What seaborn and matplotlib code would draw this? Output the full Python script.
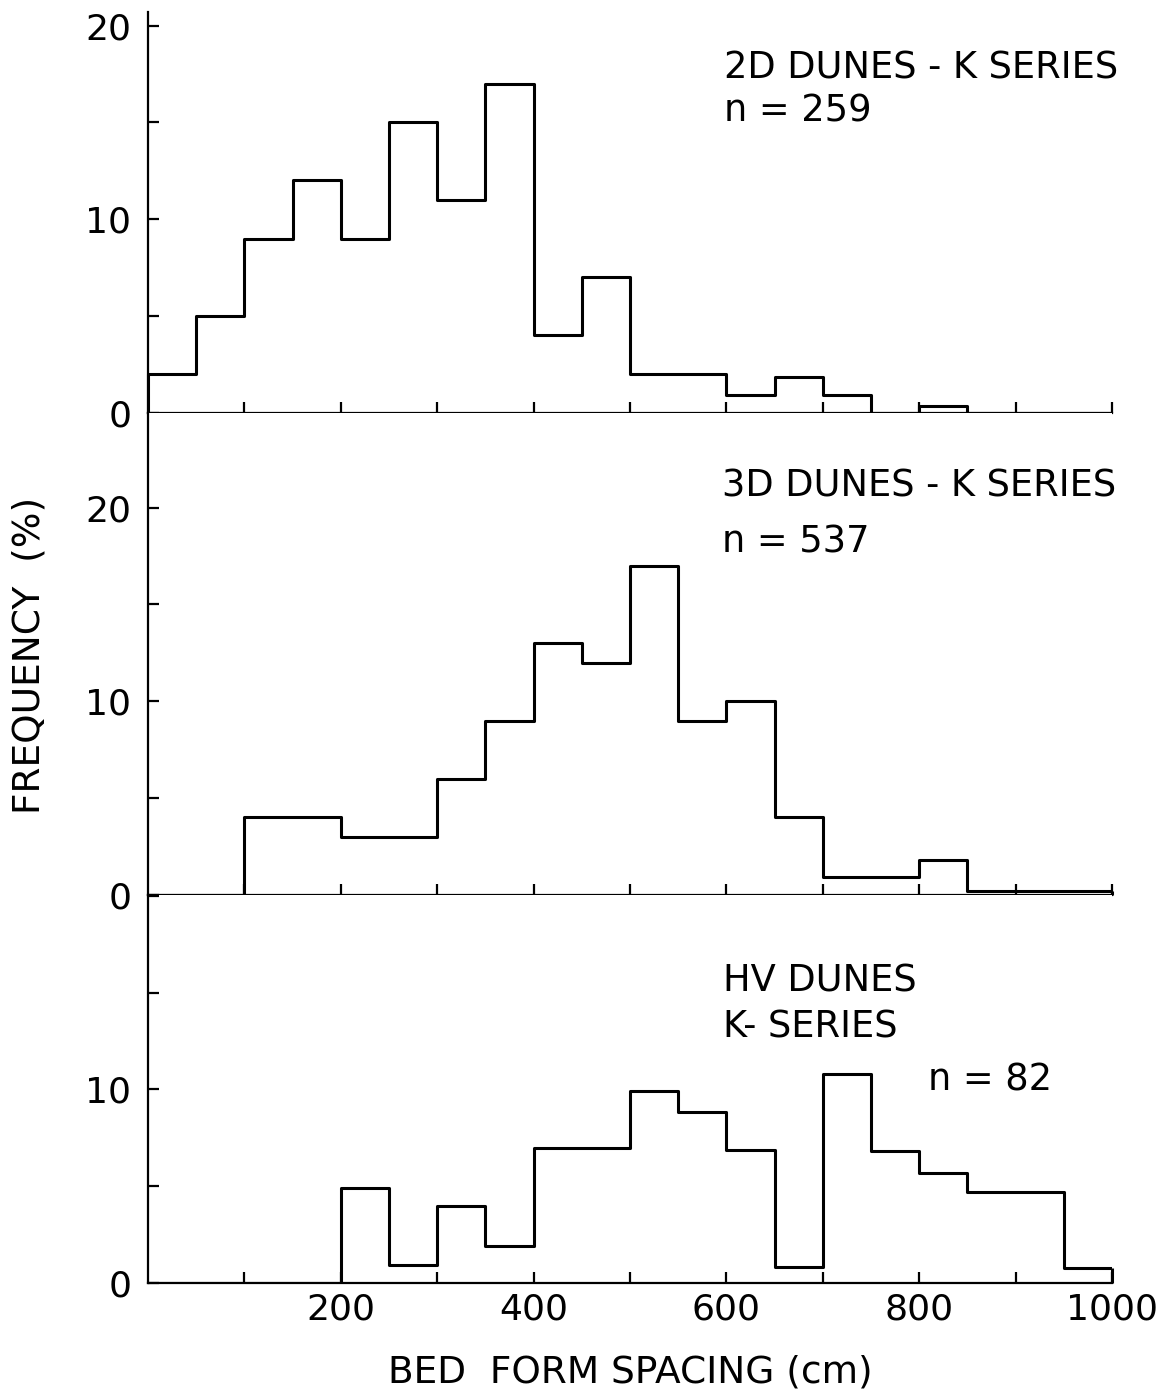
import numpy as np
import pandas as pd
import matplotlib
matplotlib.use("Agg")
import matplotlib.pyplot as plt
import seaborn as sns

# ---- data ----
bin_edges = list(range(0, 1001, 50))
freq_2d = [2, 5, 9, 12, 9, 15, 11, 17, 4, 7, 2, 2, 0.9, 1.85, 0.9, 0, 0.35, 0, 0, 0]
freq_3d = [0, 0, 4, 4, 3, 3, 6, 9, 13, 12, 17, 9, 10, 4, 0.9, 0.9, 1.8, 0.2, 0.2, 0.2]
freq_hv = [0, 0, 0, 0, 4.9, 0.95, 4, 1.9, 7, 7, 9.9, 8.85, 6.85, 0.85, 10.8, 6.8, 5.7, 4.7, 4.7, 0.8]

x_ticks = [100, 200, 300, 400, 500, 600, 700, 800, 900, 1000]
x_ticklabels = ["", "200", "", "400", "", "600", "", "800", "", "1000"]
y_ticks = [0, 5, 10, 15, 20]
y_labels_full = ["0", "", "10", "", "20"]
y_labels_bottom = ["0", "", "10", "", ""]

x_title = "BED  FORM SPACING (cm)"
y_title = "FREQUENCY  (%)"

sns.set_theme(style="ticks")
plt.rcParams["font.family"] = ["DejaVu Sans"]
plt.rcParams["text.color"] = "black"

fig = plt.figure(figsize=(11.7, 13.99), dpi=100)
gs = fig.add_gridspec(3, 1, height_ratios=[20.7, 24.9, 20.05], hspace=0,
                      left=0.1265, right=0.9504, top=0.9914, bottom=0.0829)
axes = [fig.add_subplot(gs[i]) for i in range(3)]

series = [freq_2d, freq_3d, freq_hv]
ylims = [20.7, 24.9, 20.05]
edges = np.array(bin_edges, dtype=float)
centers = ((edges[:-1] + edges[1:]) / 2).tolist()

for ax, vals, ytop in zip(axes, series, ylims):
    df = pd.DataFrame({"spacing": centers, "freq": vals})
    sns.histplot(data=df, x="spacing", weights="freq", bins=list(bin_edges),
                 element="step", fill=False, color="black", linewidth=2.2, ax=ax)
    ax.vlines([bin_edges[0], bin_edges[-1]], 0, [vals[0], vals[-1]], color="black",
              linewidth=2.2, clip_on=False)
    ax.set_xlim(0, 1000)
    ax.set_ylim(0, ytop)
    ax.set_xlabel("")
    ax.set_ylabel("")
    for s in ["top", "right"]:
        ax.spines[s].set_visible(False)
    for s in ["left", "bottom"]:
        ax.spines[s].set_linewidth(1.6)
        ax.spines[s].set_color("black")
    ax.set_xticks(x_ticks)
    ax.set_yticks(y_ticks)
    ax.tick_params(axis="both", direction="in", length=8, width=1.6, color="black",
                   labelsize=26, labelcolor="black")
    ax.tick_params(axis="y", pad=12)
    ax.tick_params(axis="x", pad=7)
    ax.set_facecolor("white")

axes[0].set_yticklabels(y_labels_full)
axes[1].set_yticklabels(y_labels_full)
axes[2].set_yticklabels(y_labels_bottom)
axes[0].set_xticklabels([])
axes[1].set_xticklabels([])
axes[2].set_xticklabels(x_ticklabels)

fs = 26.5
kw = dict(fontsize=fs, va="center", ha="left", color="black")
axes[0].text(598, 17.8, "2D DUNES - K SERIES", **kw)
axes[0].text(598, 15.6, "n = 259", **kw)
axes[1].text(595, 21.1, "3D DUNES - K SERIES", **kw)
axes[1].text(595, 18.25, "n = 537", **kw)
axes[2].text(597, 15.6, "HV DUNES", **kw)
axes[2].text(597, 13.25, "K- SERIES", **kw)
axes[2].text(809, 10.5, "n = 82", **kw)

fig.text(630 / 1170, 1 - 1372 / 1399, x_title, fontsize=27, ha="center", va="center",
         color="black")
fig.text(30 / 1170, 1 - 655 / 1399, y_title, fontsize=27, ha="center", va="center",
         rotation=90, color="black")

fig.patch.set_facecolor("white")
fig.savefig("out.png", dpi=100, facecolor="white")
